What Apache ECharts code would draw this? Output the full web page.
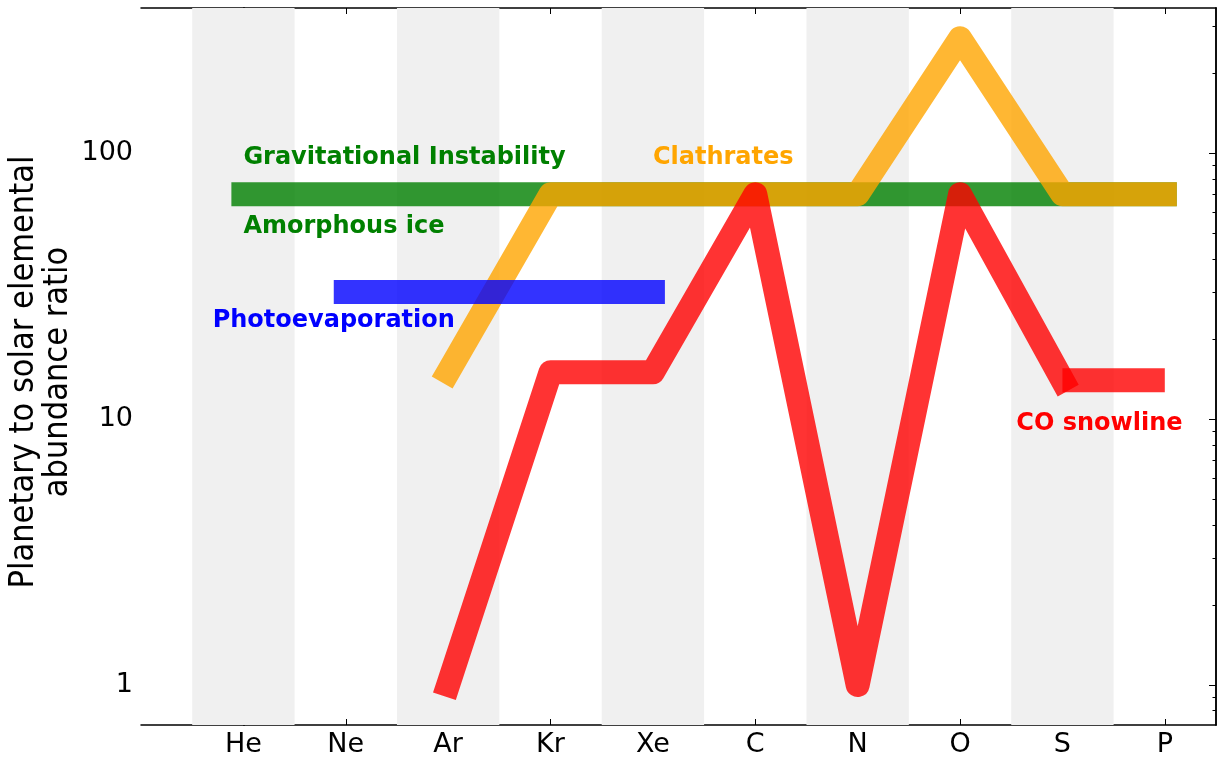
<!doctype html>
<html>
<head>
<meta charset="utf-8">
<script src="https://cdn.jsdelivr.net/npm/echarts@6/dist/echarts.min.js"></script>
<style>
  html, body { margin:0; padding:0; background:#fff; }
  #main { width:1217px; height:762px; }
</style>
</head>
<body>
<div id="main"></div>
<script>
// element categories on the x axis
var elements = ['He', 'Ne', 'Ar', 'Kr', 'Xe', 'C', 'N', 'O', 'S', 'P'];

// abundance ratios (index = position in elements)
var gravInstab = [[0, 70], [9, 70]];
var photoEvap = [[1, 30], [4, 30]];
var clathrates = [[2, 15], [3, 70], [4, 70], [5, 70], [6, 70], [7, 270], [8, 70], [9, 70]];
var coSnowline = [[2, 1], [3, 15], [4, 15], [5, 70], [6, 1], [7, 70], [8, 14]];
var coSnowlineTail = [[8, 14], [9, 14]];

// alternating background bands
var bands = [[-0.5, 0.5], [1.5, 2.5], [3.5, 4.5], [5.5, 6.5], [7.5, 8.5]];

var yMajor = [1, 10, 100];
var yMinor = [0.8, 0.9, 2, 3, 4, 5, 6, 7, 8, 9, 20, 30, 40, 50, 60, 70, 80, 90, 200, 300];

// text annotations: [x, y, text, colour]
var notes = [
  [0, 96, 'Gravitational Instability', '#008000'],
  [0, 53, 'Amorphous ice', '#008000'],
  [-0.3, 23.4, 'Photoevaporation', '#0000ff'],
  [4, 96, 'Clathrates', '#ffa500'],
  [7.55, 9.6, 'CO snowline', '#ff0000']
];

var xTicks = elements.map(function(e, i){ return i; });
var yMin = 0.707, yMax = 351;

var myChart = echarts.init(document.getElementById('main'));

function yAx(pos, ticks, len, showLabel){
  return {
    type:'log', logBase:10, min:yMin, max:yMax, position:pos,
    axisLine:{ show:true, lineStyle:{ color:'#000', width:1.5 } },
    axisTick:{ show:true, inside:true, length:len, customValues:ticks, lineStyle:{ color:'#000', width:1 } },
    axisLabel:{ show:showLabel, customValues:yMajor, color:'#000', fontSize:27, fontFamily:'DejaVu Sans', margin:8,
      formatter:function(v){ return String(Math.round(v)); } },
    splitLine:{ show:false }, minorTick:{ show:false }
  };
}

function xAx(pos, showLabel){
  return {
    type:'value', min:-1, max:9.5, position:pos,
    axisLine:{ show:true, onZero:false, lineStyle:{ color:'#000', width:1.5 } },
    axisTick:{ show:true, inside:true, length:6, customValues:xTicks, lineStyle:{ color:'#000', width:1 } },
    axisLabel:{ show:showLabel, customValues:xTicks, color:'#000', fontSize:27, fontFamily:'DejaVu Sans', margin:6,
      formatter:function(v){ return elements[Math.round(v)] || ''; } },
    splitLine:{ show:false }
  };
}

function line(name, data, color, cap, z){
  return {
    name:name, type:'line', data:data, xAxisIndex:0, yAxisIndex:0,
    symbol:'none', silent:true, z:z,
    lineStyle:{ color:color, width:24, opacity:0.8, cap:cap, join:'round' }
  };
}

var option = {
  backgroundColor:'#fff',
  animation:false,
  grid:{ left:141, top:8, right:1, bottom:37, containLabel:false },
  xAxis:[ xAx('bottom', true), xAx('top', false) ],
  yAxis:[ yAx('left', yMajor, 7, true), yAx('left', yMinor, 3.5, false),
          yAx('right', yMajor, 7, false), yAx('right', yMinor, 3.5, false) ],
  graphic:[{
    type:'text', silent:true,
    x:41, y:372, rotation:Math.PI/2,
    style:{ text:'Planetary to solar elemental\nabundance ratio', fill:'#000', align:'center', verticalAlign:'middle',
      fontSize:34, fontFamily:'"DejaVu Sans Condensed", "DejaVu Sans", sans-serif', lineHeight:34 }
  }],
  series:[
    {
      type:'line', data:[], xAxisIndex:0, yAxisIndex:0, silent:true, z:1,
      markArea:{ silent:true, itemStyle:{ color:'#f0f0f0' },
        data:bands.map(function(b){ return [{ xAxis:b[0] }, { xAxis:b[1] }]; }) }
    },
    line('Gravitational Instability', gravInstab, '#008000', 'square', 2),
    line('Clathrates', clathrates, '#ffa500', 'square', 3),
    line('Photoevaporation', photoEvap, '#0000ff', 'square', 4),
    line('CO snowline', coSnowline, '#ff0000', 'square', 5),
    line('CO snowline tail', coSnowlineTail, '#ff0000', 'butt', 5),
    {
      type:'scatter', symbolSize:0, silent:true, z:6,
      itemStyle:{ opacity:1 },
      data:notes.map(function(n){ return { value:[n[0], n[1]], label:{ color:n[3], formatter:n[2] } }; }),
      label:{ show:true, position:'right', distance:0, opacity:1, fontSize:24, fontWeight:'bold', fontFamily:'DejaVu Sans' }
    }
  ]
};

myChart.setOption(option);
</script>
</body>
</html>
